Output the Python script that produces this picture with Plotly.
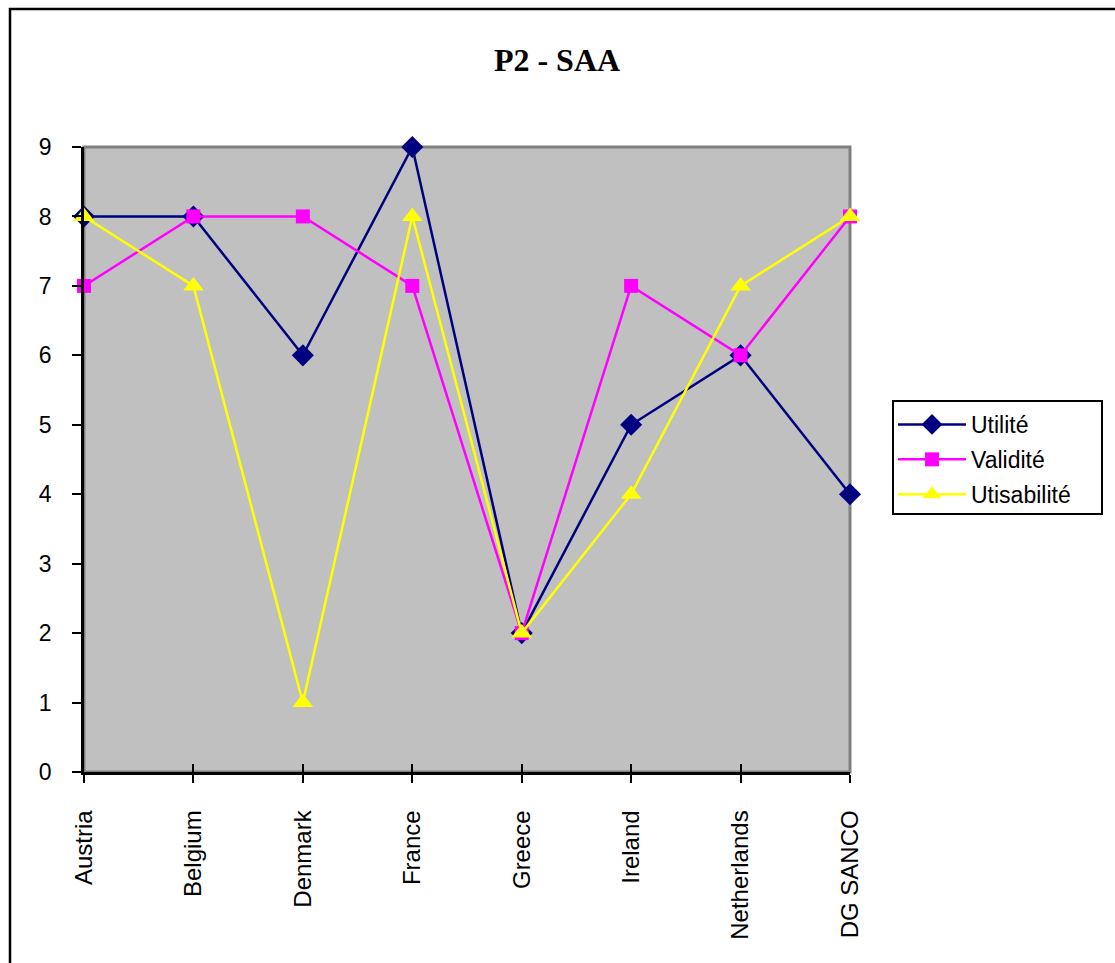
import plotly.graph_objects as go

categories = ["Austria", "Belgium", "Denmark", "France", "Greece", "Ireland", "Netherlands", "DG SANCO"]
utilite = [8, 8, 6, 9, 2, 5, 6, 4]
validite = [7, 8, 8, 7, 2, 7, 6, 8]
utisabilite = [8, 7, 1, 8, 2, 4, 7, 8]
y_ticks = list(range(0, 10))

W, H = 1115, 963
L, R, T, B = 84, 850, 147, 772

fig = go.Figure()
fig.add_trace(go.Scatter(x=categories, y=utilite, name="Utilité", mode="lines+markers",
                         line=dict(color="#000080", width=2.5), legendgroup="a",
                         marker=dict(symbol="diamond", size=17, color="#000080"),
                         cliponaxis=False))
fig.add_trace(go.Scatter(x=categories, y=validite, name="Validité", mode="lines+markers",
                         line=dict(color="#FF00FF", width=2.5), legendgroup="b",
                         marker=dict(symbol="square", size=14, color="#FF00FF"),
                         cliponaxis=False))
fig.add_trace(go.Scatter(x=categories, y=utisabilite, name="Utisabilité", mode="lines+markers",
                         line=dict(color="#FFFF00", width=2.5), legendgroup="c",
                         marker=dict(symbol="triangle-up", size=18, color="#FFFF00"),
                         cliponaxis=False))

pw = R - L
ph = B - T

def px(x):
    return (x - L) / pw

def py(y):
    return (B - y) / ph

fig.update_layout(
    width=W, height=H,
    margin=dict(l=L, r=W - R, t=T, b=H - B, pad=0),
    paper_bgcolor="white",
    plot_bgcolor="#C0C0C0",
    font=dict(family="Liberation Sans, Arial", color="black"),
    title=dict(text="<b>P2 - SAA</b>", x=px(557), xref="paper", xanchor="center",
               y=(H - 60) / H, yanchor="middle",
               font=dict(family="Liberation Serif, Times New Roman", size=32, color="black")),
    xaxis=dict(type="category", range=[0, len(categories) - 1], showgrid=False,
               showline=True, linecolor="black", linewidth=2.5, mirror=False,
               ticks="outside", ticklen=8, tickwidth=2, tickcolor="black",
               tickangle=-90, tickfont=dict(size=24, color="black"),
               ticklabelstandoff=18, zeroline=False),
    xaxis2=dict(type="category", range=[0, len(categories) - 1], overlaying="x",
                matches="x", showgrid=False, showline=False, ticks="inside", ticklen=8,
                tickwidth=2, tickcolor="black", showticklabels=False, side="bottom",
                zeroline=False),
    yaxis=dict(range=[0, 9], tickvals=y_ticks, showgrid=False, zeroline=False,
               showline=True, linecolor="black", linewidth=2.5,
               ticks="outside", ticklen=9, tickwidth=2, tickcolor="black",
               tickfont=dict(size=23, color="black"), ticklabelstandoff=16),
    legend=dict(x=px(893), y=py(403), xanchor="left", yanchor="top",
                bgcolor="rgba(0,0,0,0)", borderwidth=0,
                font=dict(size=23, color="black"), tracegroupgap=2,
                itemsizing="trace", itemwidth=68),
    showlegend=True,
)

# dummy trace on xaxis2 to show crossing ticks
fig.add_trace(go.Scatter(x=categories, y=[None] * len(categories), xaxis="x2",
                         showlegend=False, hoverinfo="skip"))

fig.add_shape(type="rect", xref="paper", yref="paper", x0=0, y0=0, x1=1, y1=1,
              line=dict(color="#808080", width=3), layer="below")
# legend frame
fig.add_shape(type="rect", xref="paper", yref="paper", x0=px(893), y0=py(514),
              x1=px(1102), y1=py(401), line=dict(color="black", width=2),
              fillcolor="white", layer="above")
# outer chart frame
fig.add_shape(type="rect", xref="paper", yref="paper", x0=px(10), y0=py(1100),
              x1=px(1300), y1=py(9), line=dict(color="black", width=2.5),
              fillcolor="rgba(0,0,0,0)", layer="above")

fig.write_html("out.html", config={"displayModeBar": False},
               post_script="document.body.style.margin='0';")
